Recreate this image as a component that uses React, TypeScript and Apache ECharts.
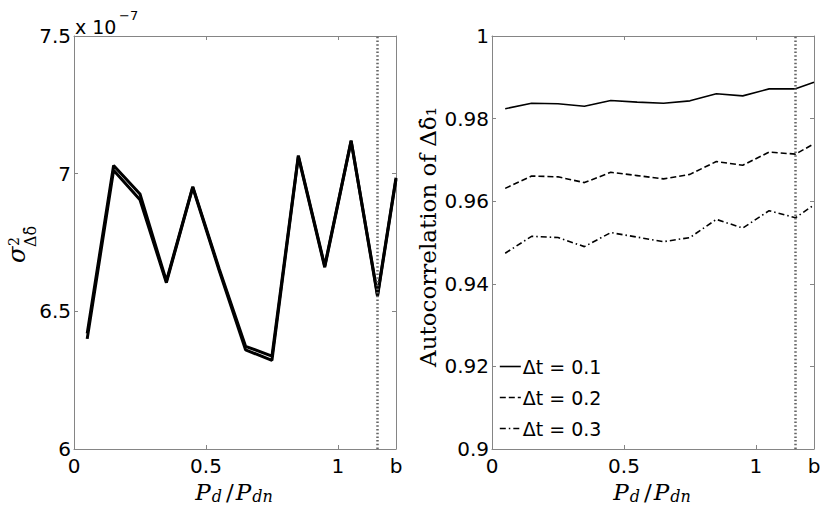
import React, { useEffect, useRef } from "react";
import * as echarts from "echarts";

// ---------- data ----------
const xPositions = [0.05, 0.15, 0.25, 0.35, 0.45, 0.55, 0.65, 0.75, 0.85, 0.95, 1.05, 1.15, 1.22];

// variance (units of 1e-7), two nearly overlapping runs
const varianceRunA = [6.42, 7.03, 6.926, 6.61, 6.953, 6.655, 6.373, 6.337, 7.066, 6.665, 7.12, 6.56, 6.985];
const varianceRunB = [6.40, 7.012, 6.905, 6.604, 6.95, 6.648, 6.36, 6.322, 7.062, 6.66, 7.118, 6.555, 6.98];

// autocorrelation for three time steps
const autocorrDt01 = [0.9824, 0.9837, 0.9836, 0.983, 0.9844, 0.984, 0.9837, 0.9843, 0.986, 0.9855, 0.9872, 0.9872, 0.9888];
const autocorrDt02 = [0.9631, 0.9661, 0.9659, 0.9645, 0.967, 0.9662, 0.9654, 0.9665, 0.9696, 0.9687, 0.9719, 0.9714, 0.9739];
const autocorrDt03 = [0.9474, 0.9515, 0.9512, 0.949, 0.9524, 0.9513, 0.9502, 0.9512, 0.9556, 0.9535, 0.9577, 0.956, 0.9591];

const legendNames = ["Δt = 0.1", "Δt = 0.2", "Δt = 0.3"];

const xMin = 0;
const xMax = 1.22;
const xInterval = 0.5;
const xMaxLabel = "b";
const refLineX = 1.15;

const varYMin = 6;
const varYMax = 7.5;
const varYInterval = 0.5;

const acYMin = 0.9;
const acYMax = 1;
const acYInterval = 0.02;

// ---------- styling ----------
const axisGray = "#858585";
const tickFont = "DejaVu Sans";
const serifFont = "DejaVu Serif";

const pairs = (ys: number[]) => xPositions.map((x, i) => [x, ys[i]]);

function xAxisDef(gridIndex: number, position: "bottom" | "top") {
  return {
    type: "value",
    gridIndex,
    position,
    min: xMin,
    max: xMax,
    interval: xInterval,
    axisLine: { show: true, onZero: false, lineStyle: { color: axisGray, width: 1 } },
    axisTick: { show: true, inside: true, length: 4, lineStyle: { color: axisGray, width: 1 } },
    splitLine: { show: false },
    axisLabel:
      position === "bottom"
        ? {
            show: true,
            margin: 7,
            color: "#000",
            fontFamily: tickFont,
            fontSize: 20,
            formatter: (v: number) => (v > 1.1 ? xMaxLabel : String(v)),
          }
        : { show: false },
  };
}

function yAxisDef(gridIndex: number, position: "left" | "right", min: number, max: number, interval: number) {
  return {
    type: "value",
    gridIndex,
    position,
    min,
    max,
    interval,
    axisLine: { show: true, onZero: false, lineStyle: { color: axisGray, width: 1 } },
    axisTick: { show: true, inside: true, length: 4, lineStyle: { color: axisGray, width: 1 } },
    splitLine: { show: false },
    axisLabel:
      position === "left"
        ? { show: true, margin: 3, color: "#000", fontFamily: tickFont, fontSize: 20 }
        : { show: false },
  };
}

const refLine = {
  silent: true,
  symbol: "none",
  label: { show: false },
  lineStyle: { color: "#666", type: [1.5, 2.2], width: 2.5 },
  data: [{ xAxis: refLineX }],
};

const subRich = {
  P: { fontFamily: serifFont, fontStyle: "italic", fontSize: 23, fill: "#000", padding: [0, 1, 0, 0] },
  s: { fontFamily: serifFont, fontStyle: "italic", fontSize: 16, fill: "#000", padding: [8, 2, 0, 0] },
  o: { fontFamily: serifFont, fontSize: 23, fill: "#000", padding: [0, 2, 0, 2] },
};

function xTitle(cx: number) {
  return {
    type: "text",
    x: cx,
    y: 492,
    style: {
      text: "{P|P}{s|d}{o|/}{P|P}{s|dn}",
      rich: subRich,
      align: "center",
      verticalAlign: "middle",
    },
  };
}

const option = {
  animation: false,
  backgroundColor: "#fff",
  textStyle: { fontFamily: tickFont },
  grid: [
    { left: 74, right: 434, top: 36, bottom: 59, outerBoundsMode: "none" },
    { left: 492, right: 16, top: 36, bottom: 59, outerBoundsMode: "none" },
  ],
  xAxis: [xAxisDef(0, "bottom"), xAxisDef(0, "top"), xAxisDef(1, "bottom"), xAxisDef(1, "top")],
  yAxis: [
    yAxisDef(0, "left", varYMin, varYMax, varYInterval),
    yAxisDef(0, "right", varYMin, varYMax, varYInterval),
    yAxisDef(1, "left", acYMin, acYMax, acYInterval),
    yAxisDef(1, "right", acYMin, acYMax, acYInterval),
  ],
  legend: {
    left: 499,
    top: 357,
    orient: "vertical",
    itemWidth: 21,
    itemHeight: 20,
    itemGap: 12,
    padding: 0,
    itemStyle: { color: "rgba(0,0,0,0)", borderColor: "rgba(0,0,0,0)", borderWidth: 0, opacity: 0 },
    lineStyle: { width: 1.6 },
    textStyle: { color: "#000", fontFamily: tickFont, fontSize: 19, padding: [0, 0, 0, -3] },
    data: legendNames,
  },
  series: [
    {
      name: "variance run A",
      type: "line",
      xAxisIndex: 0,
      yAxisIndex: 0,
      data: pairs(varianceRunA),
      showSymbol: false,
      symbol: "none",
      lineStyle: { color: "#000", width: 3 },
      markLine: refLine,
    },
    {
      name: "variance run B",
      type: "line",
      xAxisIndex: 0,
      yAxisIndex: 0,
      data: pairs(varianceRunB),
      showSymbol: false,
      symbol: "none",
      lineStyle: { color: "#000", width: 3 },
    },
    {
      name: legendNames[0],
      type: "line",
      xAxisIndex: 2,
      yAxisIndex: 2,
      data: pairs(autocorrDt01),
      showSymbol: false,
      symbol: "none",
      itemStyle: { color: "#000" },
      lineStyle: { color: "#000", width: 1.6, type: "solid" },
      markLine: refLine,
    },
    {
      name: legendNames[1],
      type: "line",
      xAxisIndex: 2,
      yAxisIndex: 2,
      data: pairs(autocorrDt02),
      showSymbol: false,
      symbol: "none",
      itemStyle: { color: "#000" },
      lineStyle: { color: "#000", width: 1.6, type: [6, 3] },
    },
    {
      name: legendNames[2],
      type: "line",
      xAxisIndex: 2,
      yAxisIndex: 2,
      data: pairs(autocorrDt03),
      showSymbol: false,
      symbol: "none",
      itemStyle: { color: "#000" },
      lineStyle: { color: "#000", width: 1.6, type: [6, 3, 1.5, 3] },
    },
  ],
  graphic: [
    // exponent for the left y axis
    {
      type: "text",
      x: 75,
      y: 27,
      style: { text: "x 10", fontFamily: tickFont, fontSize: 19, fill: "#000", align: "left", verticalAlign: "middle" },
    },
    {
      type: "text",
      x: 119,
      y: 15,
      style: { text: "−7", fontFamily: tickFont, fontSize: 13, fill: "#000", align: "left", verticalAlign: "middle" },
    },
    // left y title: sigma^2 with subscript
    {
      type: "group",
      x: 17,
      y: 263,
      rotation: Math.PI / 2,
      children: [
        {
          type: "text",
          x: 0,
          y: 0,
          style: { text: "σ", fontFamily: serifFont, fontStyle: "italic", fontSize: 24, fill: "#000", align: "left", verticalAlign: "middle" },
        },
        {
          type: "text",
          x: 17,
          y: -3,
          style: { text: "2", fontFamily: serifFont, fontSize: 14, fill: "#000", align: "left", verticalAlign: "middle" },
        },
        {
          type: "text",
          x: 16,
          y: 13,
          style: { text: "Δδ̇", fontFamily: serifFont, fontSize: 16, fill: "#000", align: "left", verticalAlign: "middle" },
        },
      ],
    },
    // right y title
    {
      type: "text",
      x: 428,
      y: 237,
      rotation: Math.PI / 2,
      style: {
        text: "Autocorrelation of Δδ̇₁",
        fontFamily: serifFont,
        fontSize: 23,
        fill: "#000",
        align: "center",
        verticalAlign: "middle",
      },
    },
    xTitle(235),
    xTitle(653),
  ],
};

export default function App() {
  const ref = useRef<HTMLDivElement>(null);
  useEffect(() => {
    if (!ref.current) return;
    const chart = echarts.init(ref.current, undefined, { renderer: "svg" });
    chart.setOption(option as any);
    return () => chart.dispose();
  }, []);
  return (
    <div
      ref={ref}
      style={{ position: "absolute", left: 0, top: 0, width: 830, height: 508, background: "#fff" }}
    />
  );
}
